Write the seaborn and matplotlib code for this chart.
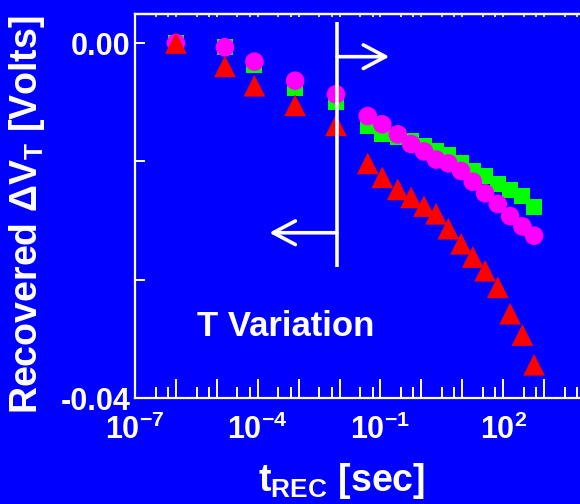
import matplotlib
matplotlib.use("Agg")
import matplotlib.pyplot as plt
import numpy as np
import pandas as pd
import seaborn as sns
from matplotlib.ticker import FixedLocator, FuncFormatter, LogLocator, NullFormatter

# ---------------- data ----------------
t_rec = [1.0e-6, 1.58e-5, 8.3e-5, 8.2e-4, 8.2e-3,
         0.049, 0.111, 0.265, 0.56, 1.16, 2.29, 4.57, 9.34, 18.1, 36.1,
         73.8, 147.5, 295, 569]

dvt_green = [0.0, -0.00042, -0.00248, -0.0051, -0.00668,
             -0.00939, -0.01022, -0.01059, -0.01108, -0.01157, -0.01214,
             -0.01259, -0.01352, -0.01439, -0.01495, -0.01589, -0.01653,
             -0.01727, -0.01851]

dvt_magenta = [0.0, -0.00048, -0.0021, -0.00425, -0.00578,
               -0.00823, -0.00916, -0.01029, -0.01138, -0.01222, -0.01313,
               -0.01356, -0.01442, -0.01563, -0.01694, -0.01814, -0.0195,
               -0.02067, -0.02171]

dvt_red = [0.0, -0.00263, -0.00481, -0.00702, -0.00927,
           -0.01356, -0.01513, -0.01649, -0.01739, -0.01837, -0.01924,
           -0.02092, -0.02262, -0.02411, -0.02566, -0.02753, -0.0305,
           -0.0329, -0.03625]

series_names = ["green", "magenta", "red"]
series_colors = ["#00FF00", "#FF00FF", "#FF0000"]
series_markers = ["s", "o", "^"]
series_sizes = [135, 180, 245]

x_decades = list(range(-7, 5))
x_label_decades = [-7, -4, -1, 2]
y_ticks = [0.0, -0.04 / 3, -0.08 / 3, -0.04]
y_tick_labels = ["0.00", "", "", "-0.04"]

annotation_text = "T Variation"

df = pd.DataFrame({
    "t": t_rec * 3,
    "dvt": dvt_green + dvt_magenta + dvt_red,
    "series": [n for n in series_names for _ in t_rec],
})

# ---------------- style ----------------
BLUE = "#0000FF"
plt.rcParams["font.family"] = ["Liberation Sans", "DejaVu Sans"]
plt.rcParams["font.weight"] = "bold"
plt.rcParams["mathtext.fontset"] = "custom"
for k in ["rm", "bf", "it", "sf"]:
    plt.rcParams["mathtext." + k] = "Liberation Sans:bold"

W, H = 580, 504
fig = plt.figure(figsize=(W / 100, H / 100), dpi=100, facecolor=BLUE)
ax = fig.add_axes([135 / W, (H - 398) / H, (585 - 135) / W, (398 - 14) / H])
ax.set_facecolor(BLUE)
ax.set_xscale("log")

for name, col, mk, sz in zip(series_names, series_colors, series_markers, series_sizes):
    sns.scatterplot(data=df[df["series"] == name], x="t", y="dvt", color=col,
                    marker=mk, s=sz, linewidth=0, edgecolor="none",
                    ax=ax, legend=False, zorder=3)

ax.set_xlim(1e-7, 1e4)
ax.set_ylim(-0.04, 0.00327)

# spines
for side in ["left", "bottom", "top", "right"]:
    ax.spines[side].set_color("white")
    ax.spines[side].set_linewidth(1.6)

# x ticks
ax.xaxis.set_major_locator(FixedLocator([10.0 ** d for d in x_decades]))

def fmt_x(v, pos):
    d = int(round(np.log10(v)))
    return "$10^{%d}$" % d if d in x_label_decades else ""

ax.xaxis.set_major_formatter(FuncFormatter(fmt_x))
ax.xaxis.set_minor_locator(LogLocator(base=10, subs=(3.2, 6.4), numticks=60))
ax.xaxis.set_minor_formatter(NullFormatter())
ax.tick_params(axis="x", which="major", direction="in", length=13.7, width=1.4,
               color="white", labelcolor="white", labelsize=22, pad=12)
ax.tick_params(axis="x", which="minor", direction="in", length=7.7, width=1.4,
               color="white")

# y ticks
ax.yaxis.set_major_locator(FixedLocator(y_ticks))
ax.set_yticklabels(y_tick_labels)
ax.tick_params(axis="y", which="major", direction="in", length=7, width=1.4,
               color="white", labelcolor="white", labelsize=22, pad=3)
ax.yaxis.set_minor_locator(FixedLocator([]))

# top small ticks
sec = ax.secondary_xaxis("top")
sec.set_xscale("log")
sec.xaxis.set_major_locator(FixedLocator([10.0 ** d for d in x_decades]))
sec.xaxis.set_minor_locator(LogLocator(base=10, subs=(3.2, 6.4), numticks=60))
sec.xaxis.set_major_formatter(NullFormatter())
sec.xaxis.set_minor_formatter(NullFormatter())
sec.tick_params(which="both", direction="in", length=2.5, width=1.2, color="white")
sec.spines["top"].set_color("white")
sec.spines["top"].set_linewidth(1.6)

# labels
ax.set_ylabel("Recovered \u0394V$_{T}$ [Volts]", color="white", fontsize=27,
              fontweight="bold", ha="center", va="center")
ax.yaxis.set_label_coords(-0.24, 0.477)
ax.set_xlabel("t$_{REC}$ [sec]", color="white", fontsize=27, fontweight="bold",
              ha="center", va="center")
ax.xaxis.set_label_coords(0.46, -0.215)

# vertical divider and arrows
x_div = 8.7e-3
ax.plot([x_div, x_div], [0.0024, -0.0252], color="white", lw=2.6, zorder=4,
        solid_capstyle="butt")
arrow_style = "->,head_length=1.6,head_width=0.85"
ax.annotate("", xy=(0.165, -0.00154), xytext=(x_div, -0.00154),
            arrowprops=dict(arrowstyle=arrow_style, color="white", lw=2.6,
                            shrinkA=0, shrinkB=0), zorder=4)
ax.annotate("", xy=(1.92e-4, -0.02138), xytext=(x_div, -0.02138),
            arrowprops=dict(arrowstyle=arrow_style, color="white", lw=2.6,
                            shrinkA=0, shrinkB=0), zorder=4)

ax.text(4.9e-4, -0.0330, annotation_text, color="white", fontsize=25,
        fontweight="bold", ha="center", va="baseline")

fig.savefig("out.png", dpi=100, facecolor=BLUE)
